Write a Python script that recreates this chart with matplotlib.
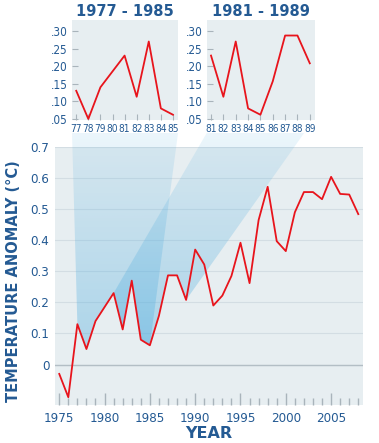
import numpy as np
import matplotlib.pyplot as plt
from matplotlib.patches import Polygon
from matplotlib.ticker import FixedLocator, FuncFormatter

# global temperature anomaly
years = np.arange(1975, 2009)
anomaly = [-0.03, -0.105, 0.13, 0.05, 0.14, 0.185, 0.23, 0.113, 0.27, 0.08,
           0.062, 0.157, 0.287, 0.287, 0.208, 0.37, 0.322, 0.19, 0.222, 0.285,
           0.392, 0.262, 0.465, 0.572, 0.397, 0.365, 0.49, 0.555, 0.555, 0.532,
           0.604, 0.549, 0.547, 0.484]

zoom_ranges = [(1977, 1985), (1981, 1989)]
main_yticks = [0, 0.1, 0.2, 0.3, 0.4, 0.5, 0.6, 0.7]
main_xticks = [1975, 1980, 1985, 1990, 1995, 2000, 2005]
inset_yticks = [0.05, 0.10, 0.15, 0.20, 0.25, 0.30]

RED = '#e8141c'
BLUE = '#245a93'
BG = '#e7eef1'
TICK = '#a9b4bb'
WEDGE = np.array([0.36, 0.70, 0.88])

plt.rcParams['font.family'] = ['DejaVu Sans']
plt.rcParams['font.stretch'] = 'condensed'

anomaly = np.array(anomaly)
fig = plt.figure(figsize=(3.79, 4.43), dpi=100)

ax = fig.add_axes([0.1451, 0.0858, 0.8127, 0.5824])
ax.set_facecolor(BG)
for s in ax.spines.values():
    s.set_visible(False)
ax.set_axisbelow(True)
ax.plot(years, anomaly, color=RED, lw=1.3, zorder=3)
ax.set_xlim(1974.53, 2008.52)
ax.set_ylim(-0.13, 0.7)

ax.yaxis.set_major_locator(FixedLocator(main_yticks))
ax.yaxis.set_major_formatter(FuncFormatter(lambda v, p: '0' if v == 0 else f'{v:.1f}'))
ax.tick_params(axis='y', length=0, pad=4, labelsize=9.5, labelcolor=BLUE)
ax.grid(axis='y', color='#d3dde3', lw=0.8)
ax.axhline(0, color='#b3bec5', lw=1.0, zorder=0.8)

ax.set_xticks(main_xticks)
ax.set_xticks(years, minor=True)
ax.tick_params(axis='x', which='major', direction='in', length=9, width=1.0,
               color=TICK, pad=5, labelsize=9.5, labelcolor=BLUE)
ax.tick_params(axis='x', which='minor', direction='in', length=5, width=1.0, color=TICK)

ax.set_xlabel('YEAR', fontsize=11.5, fontweight='bold', color=BLUE,
              fontstretch='normal', labelpad=1)
ax.set_ylabel('TEMPERATURE ANOMALY (°C)', fontsize=10.5, fontweight='bold',
              color=BLUE, fontstretch='normal')
ax.yaxis.set_label_coords(-0.11, 0.48)

insets = []
for i, (y0, y1) in enumerate(zoom_ranges):
    left = [0.19, 0.5454][i]
    width = [0.2797, 0.2857][i]
    ai = fig.add_axes([left, 0.7291, width, 0.2257])
    ai.set_facecolor(BG)
    for s in ai.spines.values():
        s.set_visible(False)
    sel = (years >= y0) & (years <= y1)
    ai.plot(years[sel] - 1900, anomaly[sel], color=RED, lw=1.3)
    ai.set_xlim(y0 - 1900 - 0.35, y1 - 1900 + 0.42)
    ai.set_ylim(0.047, 0.331)
    ai.set_xticks(years[sel] - 1900)
    ai.set_xticklabels([f'{y % 100:02d}' for y in years[sel]])
    ai.set_yticks(inset_yticks)
    ai.yaxis.set_major_formatter(FuncFormatter(lambda v, p: f'{v:.2f}'[1:]))
    ai.tick_params(direction='in', length=4, width=0.8, color=TICK,
                   labelcolor=BLUE, pad=3)
    ai.tick_params(axis='y', labelsize=8.5)
    ai.tick_params(axis='x', labelsize=7.3)
    ai.set_title(f'{y0} - {y1}', fontsize=10.5, fontweight='bold', color=BLUE,
                 fontstretch='normal', pad=3)
    insets.append((ai, sel))

# light blue wedges linking each inset to its span on the main line
inv = ax.transData.inverted()
wedge_right = [1.0, 0.9]
for (ai, sel), wr in zip(insets, wedge_right):
    tl = inv.transform(ai.transAxes.transform((0.0, -0.13)))
    tr = inv.transform(ai.transAxes.transform((wr, -0.13)))
    pts = np.column_stack([years[sel], anomaly[sel]])[::-1]
    verts = np.vstack([tl, tr, pts])
    poly = Polygon(verts, closed=True, transform=ax.transData)
    ybot, ytop = verts[:, 1].min(), verts[:, 1].max()
    grad = np.zeros((256, 1, 4))
    grad[:, 0, :3] = WEDGE
    grad[:, 0, 3] = np.linspace(0.42, 0.12, 256)
    im = ax.imshow(grad, extent=(verts[:, 0].min(), verts[:, 0].max(), ybot, ytop),
                   origin='lower', aspect='auto', interpolation='bilinear', zorder=1)
    im.set_clip_path(poly)
    im.set_clip_box(fig.bbox)

ax.set_xlim(1974.53, 2008.52)
ax.set_ylim(-0.13, 0.7)

fig.savefig('out.png', dpi=100)
